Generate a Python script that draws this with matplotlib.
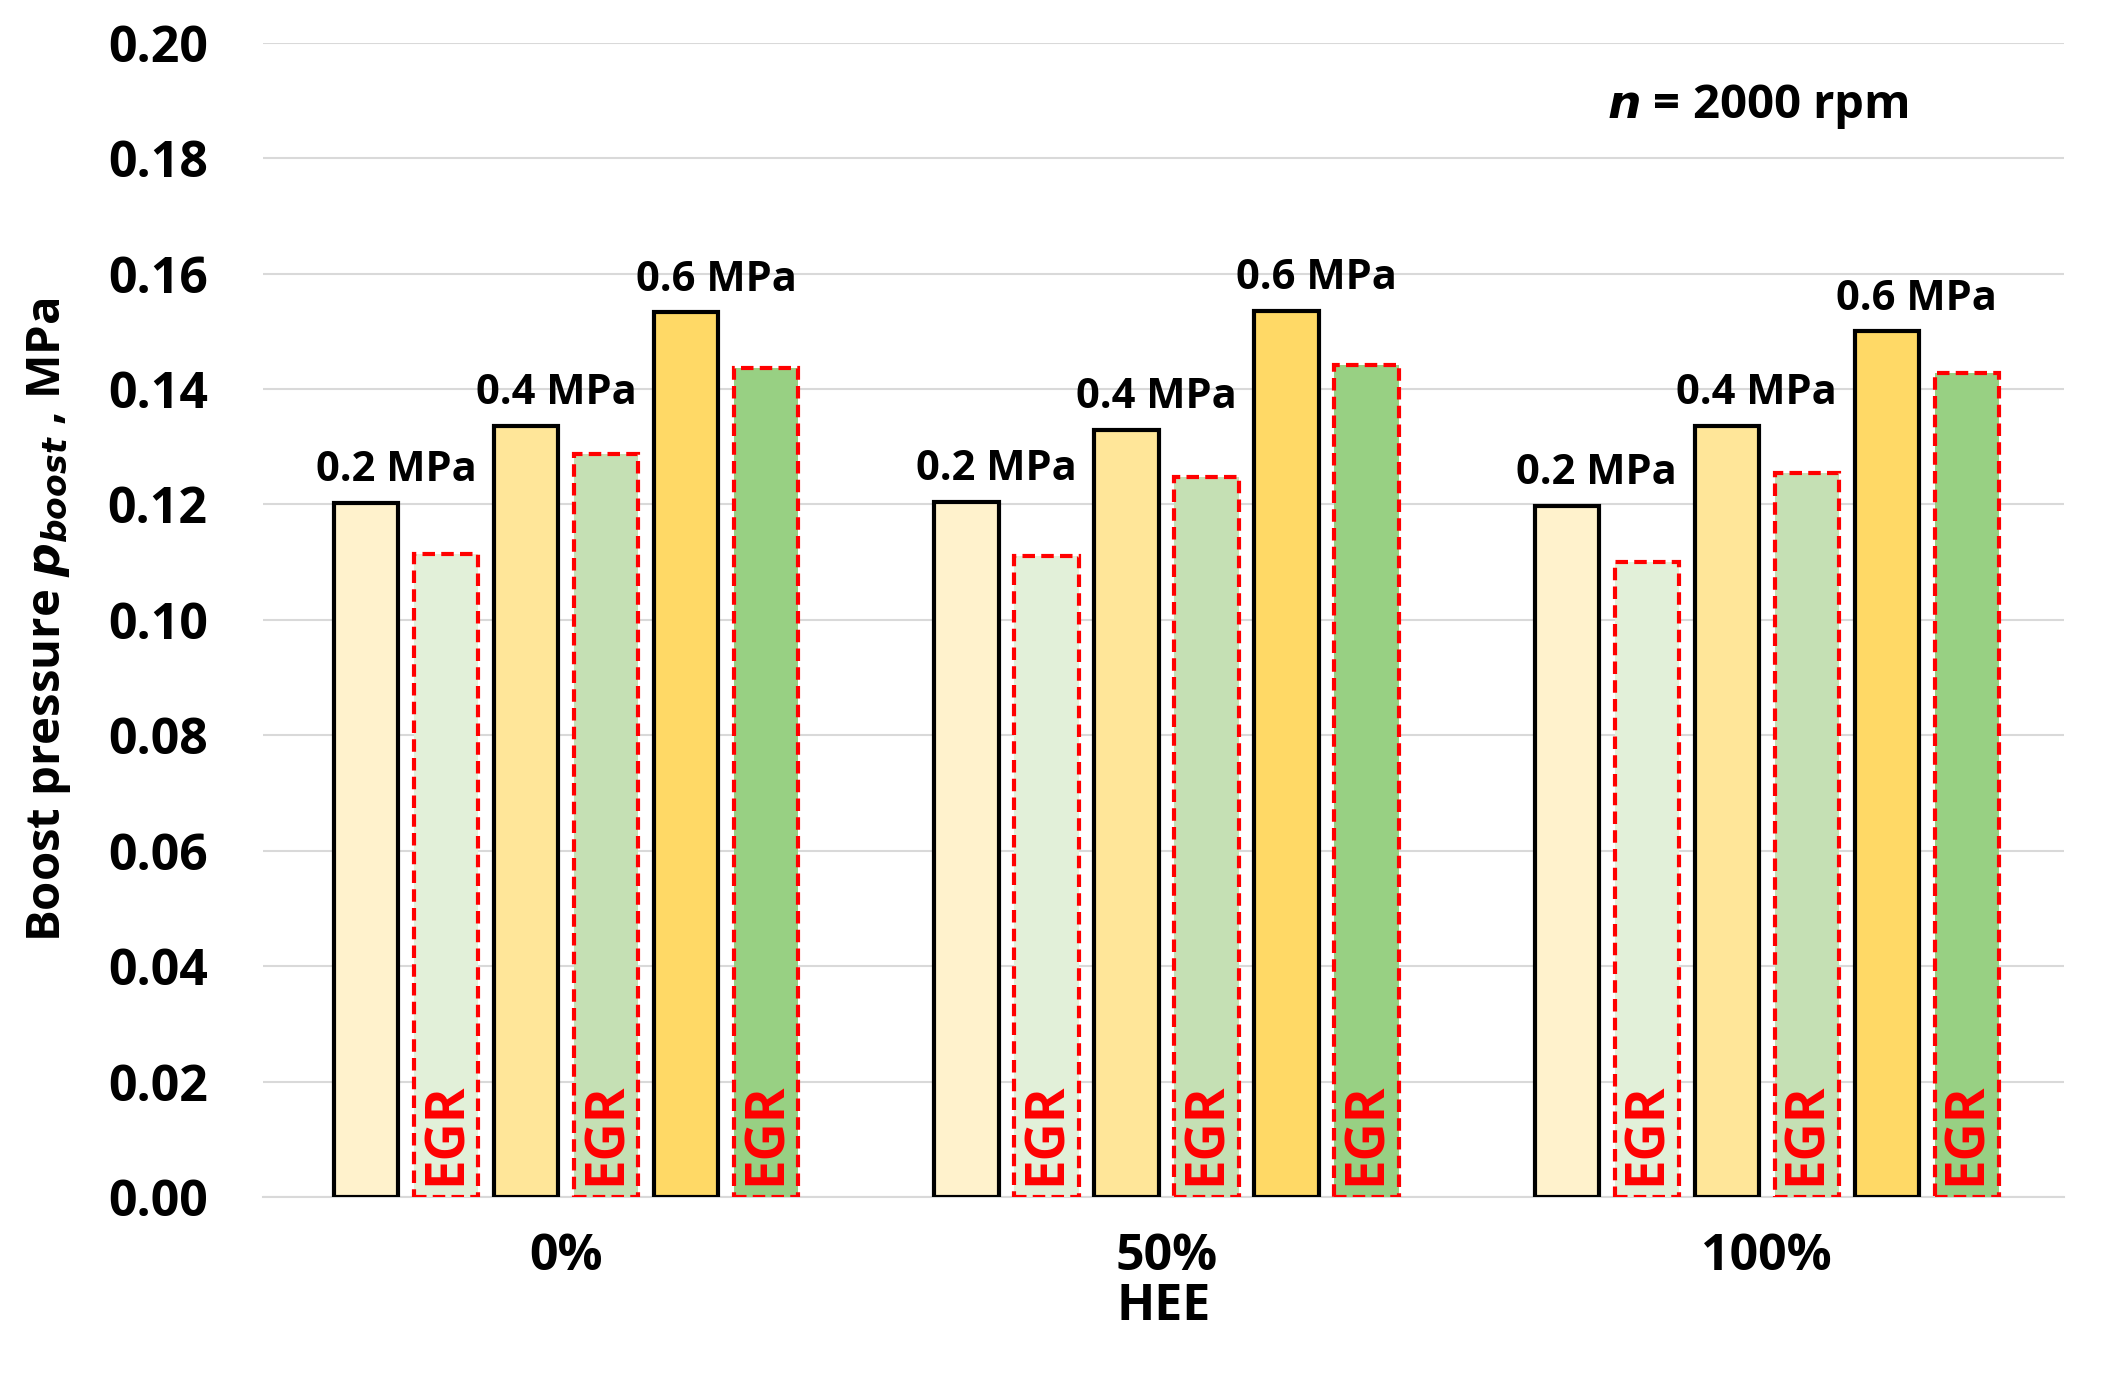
import matplotlib.pyplot as plt
import numpy as np

plt.rcParams["font.family"] = "Open Sans"
plt.rcParams["font.weight"] = "bold"

groups = ["0%", "50%", "100%"]
p02 = [0.1203, 0.1205, 0.1198]
p02_egr = [0.1114, 0.1111, 0.1100]
p04 = [0.1336, 0.1329, 0.1336]
p04_egr = [0.1287, 0.1247, 0.1254]
p06 = [0.1533, 0.1536, 0.1500]
p06_egr = [0.1437, 0.1442, 0.1428]

series = [
    (p02, "#FFF2CC", False, "0.2 MPa"),
    (p02_egr, "#E2F0D9", True, None),
    (p04, "#FFE699", False, "0.4 MPa"),
    (p04_egr, "#C5E0B4", True, None),
    (p06, "#FFD966", False, "0.6 MPa"),
    (p06_egr, "#98D083", True, None),
]

fig = plt.figure(figsize=(21.06, 13.79), dpi=100)
ax = fig.add_axes([0.125, 0.132, 0.855, 0.837])

x = np.arange(len(groups))
step = 0.1333
width = 0.107
for i, (vals, color, egr, lab) in enumerate(series):
    pos = x + (i - 2.5) * step
    if egr:
        ax.bar(pos, vals, width, color=color, edgecolor="#FF0000",
               linestyle=(0, (3, 1.5)), linewidth=3, zorder=3)
        for px in pos:
            ax.text(px, 0.002, "EGR", rotation=90, ha="center", va="bottom",
                    color="#FF0000", fontsize=38, fontweight="bold", zorder=4)
    else:
        ax.bar(pos, vals, width, color=color, edgecolor="black",
               linewidth=3, zorder=3)
        for px, v in zip(pos, vals):
            ax.text(px + 0.05, v + 0.002, lab, ha="center", va="bottom",
                    fontsize=30, fontweight="bold", zorder=4)

ax.set_xlim(-0.505, 2.495)
ax.set_ylim(0, 0.20)
ax.set_yticks(np.arange(0, 0.201, 0.02))
ax.set_yticklabels([f"{t:.2f}" for t in np.arange(0, 0.201, 0.02)])
ax.set_xticks(x)
ax.set_xticklabels(groups)
ax.tick_params(axis="both", length=0, labelsize=36, pad=25)
ax.tick_params(axis="y", pad=40)
ax.grid(axis="y", color="#D9D9D9", linewidth=1.5, zorder=0)
for s in ["top", "right", "left"]:
    ax.spines[s].set_visible(False)
ax.spines["bottom"].set_color("#D9D9D9")
ax.spines["bottom"].set_linewidth(1.5)

ax.set_xlabel("HEE", fontsize=36, fontweight="bold", labelpad=0)
ax.set_ylabel(r"Boost pressure $\boldsymbol{p_{boost}}$ , MPa", fontsize=34,
              fontweight="bold", labelpad=25)
ax.text(0.83, 0.945, r"$\boldsymbol{n}$ = 2000 rpm", transform=ax.transAxes,
        ha="center", va="center", fontsize=34, fontweight="bold")

fig.savefig("out.png", dpi=100)
